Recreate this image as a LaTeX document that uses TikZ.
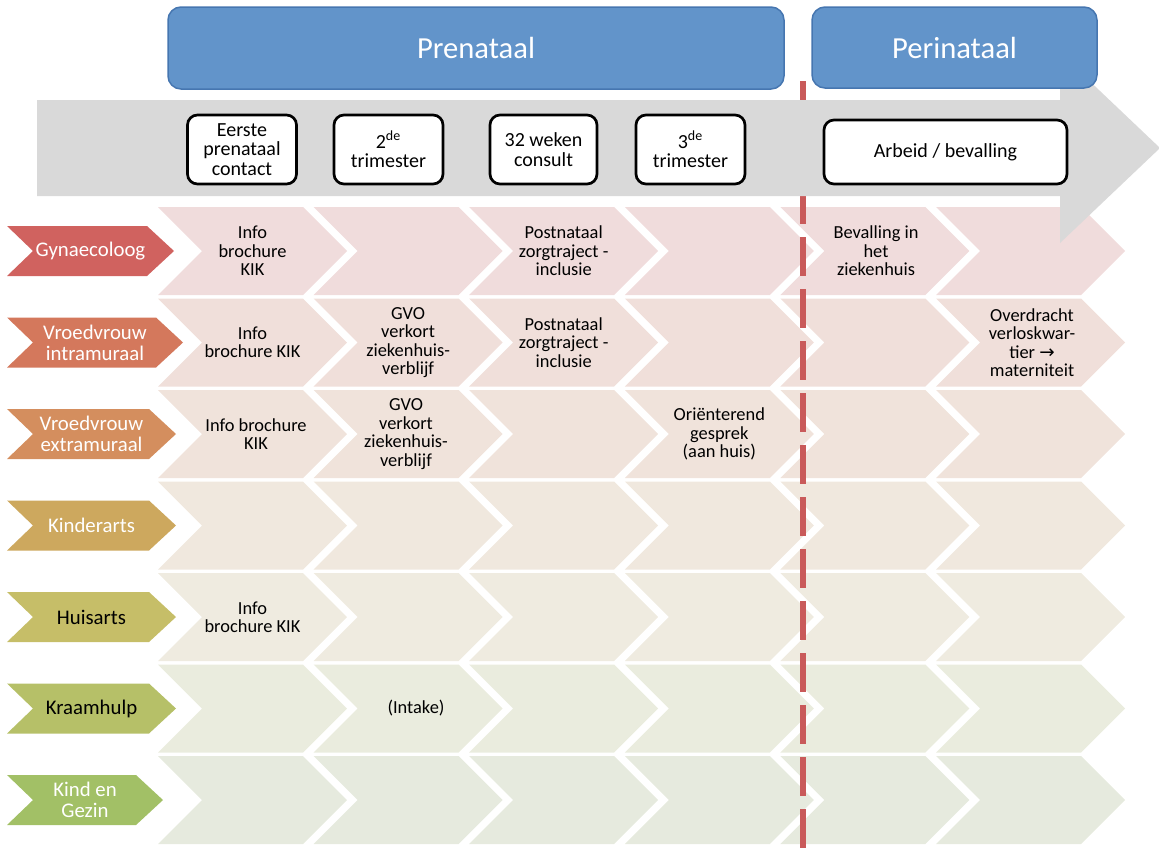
\documentclass[tikz,border=0pt]{standalone}
\usepackage{fontspec}
\setmainfont{Carlito}
\newfontfamily\arrowfont{DejaVu Sans}
\usepackage{xcolor}
\usepackage{tikz}
\usetikzlibrary{positioning, calc}
\definecolor{band}{RGB}{217,217,217}
\definecolor{phase}{RGB}{98,148,202}
\definecolor{phaseline}{RGB}{70,118,176}
\definecolor{cut}{RGB}{201,90,90}
\definecolor{gyn}{RGB}{208,98,95}
\definecolor{vvi}{RGB}{212,120,92}
\definecolor{vve}{RGB}{212,142,94}
\definecolor{kin}{RGB}{205,168,94}
\definecolor{hui}{RGB}{198,190,104}
\definecolor{kra}{RGB}{182,192,104}
\definecolor{keg}{RGB}{162,192,102}
\definecolor{gynrow}{RGB}{240,220,220}
\definecolor{vvirow}{RGB}{240,223,218}
\definecolor{vverow}{RGB}{240,227,219}
\definecolor{kinrow}{RGB}{240,232,222}
\definecolor{huirow}{RGB}{239,235,224}
\definecolor{krarow}{RGB}{234,236,222}
\definecolor{kegrow}{RGB}{230,234,222}
% chevron: colour, left x, centre y
\newcommand{\chev}[3]{\fill[#1] ({#2},{#3-44}) -- ++(145,0) -- ++(44,44) -- ++(-44,44) -- ++(-145,0) -- ++(44,-44) -- cycle;}
\newcommand{\tosym}{{\arrowfont\char"2192}}

\begin{document}
\begin{tikzpicture}[x=0.5pt, y=-0.5pt,
  phasebox/.style={draw=phaseline, line width=0.75pt, fill=phase, rounded corners=6.5pt, text=white, font=\fontsize{15.3}{18}\selectfont},
  ev/.style={draw=black, line width=1.35pt, fill=white, rounded corners=5pt, align=center, inner sep=0pt, font=\fontsize{10}{9.9}\selectfont},
  cell/.style={align=center, inner sep=1pt, font=\fontsize{9.2}{9.2}\selectfont},
  lab/.style={align=center, inner sep=0pt, font=\fontsize{10.4}{10.6}\selectfont}]
\useasboundingbox (0,0) rectangle (1159,857);

% role rows
\foreach \rc/\rowc/\t/\fg/\tx [count=\i from 0] in {
  gyn/gynrow/Gynaecoloog/white/174,
  vvi/vvirow/{Vroedvrouw\\intramuraal}/white/183,
  vve/vverow/{Vroedvrouw\\extramuraal}/white/176,
  kin/kinrow/Kinderarts/white/176,
  hui/huirow/Huisarts/black/176,
  kra/krarow/Kraamhulp/black/176,
  keg/kegrow/{Kind en\\Gezin}/white/163}{
  \pgfmathsetmacro{\yc}{251+91.5*\i}
  \foreach \j in {0,...,5}{\chev{\rowc}{158+155.6*\j}{\yc}}
  \fill[\rc] (7,{\yc-25}) -- ({\tx-27},{\yc-25}) -- (\tx,\yc) -- ({\tx-27},{\yc+25}) -- (7,{\yc+25}) -- (33,\yc) -- cycle;
  \node[lab, text=\fg] (\rc) at ({(7+\tx)/2},\yc) {\t};
}

\node[cell] (gyn1) at (252.5,251) {Info\\brochure\\KIK};
\node[cell] (gyn3) at (563.7,251) {Postnataal\\zorgtraject -\\inclusie};
\node[cell] (gyn5) at (876,251) {Bevalling in\\het\\ziekenhuis};
\node[cell] (vvi1) at (252.5,342.5) {Info\\brochure KIK};
\node[cell] (vvi2) at (408.1,342.5) {GVO\\verkort\\ziekenhuis-\\verblijf};
\node[cell] (vvi3) at (563.7,342.5) {Postnataal\\zorgtraject -\\inclusie};
\node[cell] (vvi6) at (1032,342.5) {Overdracht\\verloskwar-\\tier \tosym\\materniteit};
\node[cell] (vve1) at (256,434) {Info brochure\\KIK};
\node[cell] (vve2) at (406,434) {GVO\\verkort\\ziekenhuis-\\verblijf};
\node[cell] (vve4) at (719.3,434) {Oriënterend\\gesprek\\(aan huis)};
\node[cell] (hui1) at (252.5,617) {Info\\brochure KIK};
\node[cell] (kra2) at (416,708.5) {(Intake)};

% birth marker
\coordinate (cuttop) at (803,81);
\coordinate (cutbot) at (803,857);
\draw[cut, line width=3pt, dash pattern=on 19.5pt off 6.5pt] (cuttop) -- (cutbot);

% time axis
\fill[band] (37,100) -- (1060,100) -- (1060,53) -- (1160,148) -- (1060,243) -- (1060,196) -- (37,196) -- cycle;

\node[ev, minimum width=54.5pt, minimum height=34.5pt] (contact) at (242,149.5) {Eerste\\prenataal\\contact};
\node[ev, minimum width=54.5pt, minimum height=34.5pt] (trim2) at (388.5,149.5) {2\textsuperscript{de}\\trimester};
\node[ev, minimum width=53.5pt, minimum height=34.5pt] (week32) at (543.5,149.5) {32 weken\\consult};
\node[ev, minimum width=54.5pt, minimum height=34.5pt] (trim3) at (690.5,149.5) {3\textsuperscript{de}\\trimester};
\node[ev, minimum width=121.5pt, minimum height=32pt] (labour) at (945.5,152) {Arbeid / bevalling};

\node[phasebox, minimum width=308pt, minimum height=41pt] (pre) at (476,48) {Prenataal};
\node[phasebox, minimum width=142.5pt, minimum height=40.5pt] (peri) at (954.5,47.5) {Perinataal};
\end{tikzpicture}
\end{document}
